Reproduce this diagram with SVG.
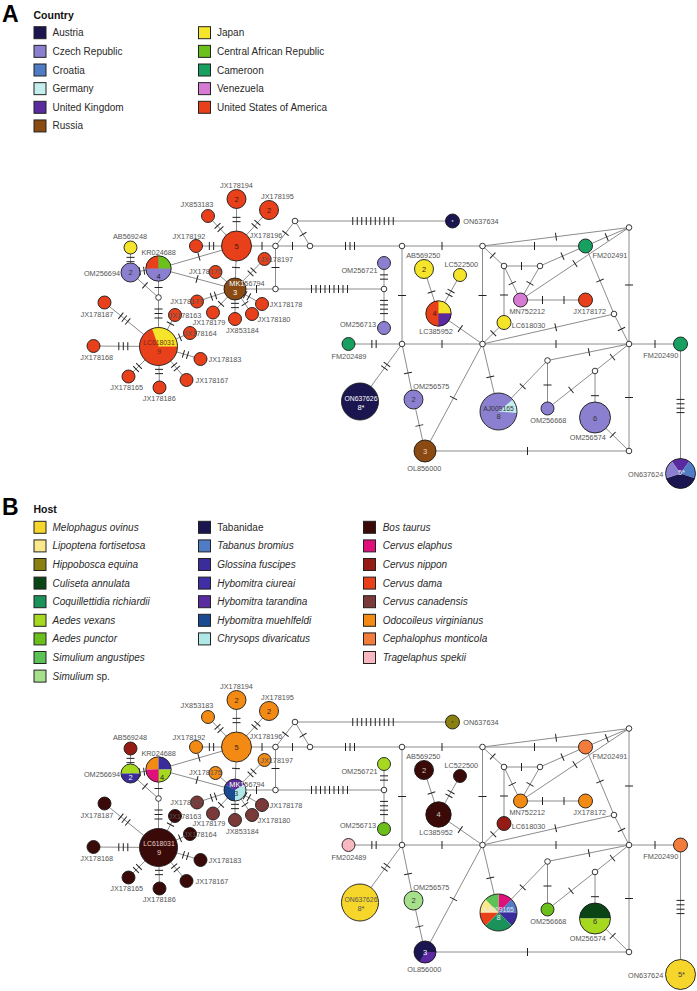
<svg xmlns="http://www.w3.org/2000/svg" xmlns:xlink="http://www.w3.org/1999/xlink" width="697" height="991" viewBox="0 0 697 991">
<style>
.n{stroke:#1a1a1a;stroke-width:0.9}
.o{fill:none;stroke:#1a1a1a;stroke-width:0.9}
.sw{stroke:#222;stroke-width:1}
.lb{font-family:"Liberation Sans",Arial,sans-serif;font-size:7.3px;fill:#555;text-anchor:middle}
.ls{text-anchor:start}
.le{text-anchor:end}
.nm{font-family:"Liberation Sans",Arial,sans-serif;font-size:7.5px;text-anchor:middle;fill:#3a1a10}
.sm{font-size:6.8px}
.w{fill:#fff}
.lt{fill:#e8d8c8}
.lg{font-family:"Liberation Sans",Arial,sans-serif;font-size:10px;fill:#2a2a2a}
.it{font-style:italic}
.hd{font-family:"Liberation Sans",Arial,sans-serif;font-size:10.5px;font-weight:bold;fill:#111}
.big{font-family:"Liberation Sans",Arial,sans-serif;font-size:23px;font-weight:bold;fill:#000}
.aut{fill:#1b1650}.cz{fill:#8b80d0}.cro{fill:#4f7cc4}.ger{fill:#c4eeee}.uk{fill:#5a2aa0}.rus{fill:#8a4a12}
.jp{fill:#f5e52a}.car{fill:#6cc01a}.cam{fill:#18a060}.ven{fill:#d77ad4}.usa{fill:#e8401a}
.mel{fill:#f6d62a}.lip{fill:#fbe88a}.hip{fill:#8a8012}.cul{fill:#0b4516}.coq{fill:#19935a}.aev{fill:#a6d820}
.aep{fill:#6abf1a}.sia{fill:#5cc256}.sis{fill:#a6e08a}.tab{fill:#1b1650}.tbr{fill:#4f7cc4}.glo{fill:#3b2c9c}
.hyc{fill:#3f2ea6}.hyt{fill:#5a2aa0}.hym{fill:#1a4a92}.chr{fill:#b0e8e8}.bos{fill:#3a0a08}.cel{fill:#e0107a}
.cni{fill:#941c14}.cda{fill:#e84018}.cca{fill:#7b3a3a}.odo{fill:#f28a14}.cep{fill:#f27c3c}.tra{fill:#f8b8c2}
</style>
<defs>
<g id="t1" stroke="#222" stroke-width="1"><line x1="0" y1="-4" x2="0" y2="4"/></g>
<g id="t2" stroke="#222" stroke-width="1"><line x1="-2.15" y1="-4" x2="-2.15" y2="4"/><line x1="2.15" y1="-4" x2="2.15" y2="4"/></g>
<g id="t3" stroke="#222" stroke-width="1"><line x1="-4.5" y1="-4" x2="-4.5" y2="4"/><line x1="0" y1="-4" x2="0" y2="4"/><line x1="4.5" y1="-4" x2="4.5" y2="4"/></g>
<g id="t4" stroke="#222" stroke-width="1"><line x1="-6.6" y1="-4" x2="-6.6" y2="4"/><line x1="-2.2" y1="-4" x2="-2.2" y2="4"/><line x1="2.2" y1="-4" x2="2.2" y2="4"/><line x1="6.6" y1="-4" x2="6.6" y2="4"/></g>
<g id="t9" stroke="#222" stroke-width="1"><line x1="-18" y1="-4" x2="-18" y2="4"/><line x1="-13.5" y1="-4" x2="-13.5" y2="4"/><line x1="-9" y1="-4" x2="-9" y2="4"/><line x1="-4.5" y1="-4" x2="-4.5" y2="4"/><line x1="0" y1="-4" x2="0" y2="4"/><line x1="4.5" y1="-4" x2="4.5" y2="4"/><line x1="9" y1="-4" x2="9" y2="4"/><line x1="13.5" y1="-4" x2="13.5" y2="4"/><line x1="18" y1="-4" x2="18" y2="4"/></g>
<g id="t10" stroke="#222" stroke-width="1"><line x1="-20.25" y1="-4" x2="-20.25" y2="4"/><line x1="-15.75" y1="-4" x2="-15.75" y2="4"/><line x1="-11.25" y1="-4" x2="-11.25" y2="4"/><line x1="-6.75" y1="-4" x2="-6.75" y2="4"/><line x1="-2.25" y1="-4" x2="-2.25" y2="4"/><line x1="2.25" y1="-4" x2="2.25" y2="4"/><line x1="6.75" y1="-4" x2="6.75" y2="4"/><line x1="11.25" y1="-4" x2="11.25" y2="4"/><line x1="15.75" y1="-4" x2="15.75" y2="4"/><line x1="20.25" y1="-4" x2="20.25" y2="4"/></g>
<g id="net-edges" stroke="#8c8c8c" stroke-width="1" fill="none">
<line x1="236.5" y1="246" x2="236.5" y2="199"/>
<line x1="236.5" y1="246" x2="208" y2="216"/>
<line x1="236.5" y1="246" x2="196" y2="246"/>
<line x1="236.5" y1="246" x2="269" y2="210"/>
<line x1="236.5" y1="246" x2="275.5" y2="246"/>
<line x1="236.5" y1="246" x2="235" y2="289"/>
<line x1="236.5" y1="246" x2="158.5" y2="268.5"/>
<line x1="235" y1="289" x2="158.5" y2="268.5"/>
<line x1="235" y1="289" x2="264.5" y2="259"/>
<line x1="235" y1="289" x2="275.5" y2="289"/>
<line x1="235" y1="289" x2="215.5" y2="272"/>
<line x1="235" y1="289" x2="197" y2="301.5"/>
<line x1="235" y1="289" x2="213" y2="312.5"/>
<line x1="235" y1="289" x2="235" y2="319"/>
<line x1="235" y1="289" x2="252" y2="314"/>
<line x1="235" y1="289" x2="262" y2="304"/>
<line x1="130.5" y1="272.5" x2="130.5" y2="247.5"/>
<line x1="130.5" y1="272.5" x2="158.5" y2="268.5"/>
<line x1="130.5" y1="272.5" x2="158.5" y2="297.5"/>
<line x1="158.5" y1="268.5" x2="158.5" y2="297.5"/>
<line x1="158.5" y1="297.5" x2="158.5" y2="346.5"/>
<line x1="158.5" y1="346.5" x2="175" y2="315"/>
<line x1="158.5" y1="346.5" x2="190" y2="333"/>
<line x1="158.5" y1="346.5" x2="104.5" y2="302.5"/>
<line x1="158.5" y1="346.5" x2="93.5" y2="346"/>
<line x1="158.5" y1="346.5" x2="128.5" y2="376.5"/>
<line x1="158.5" y1="346.5" x2="159.5" y2="387.5"/>
<line x1="158.5" y1="346.5" x2="186.5" y2="380"/>
<line x1="158.5" y1="346.5" x2="200.5" y2="359"/>
<line x1="275.5" y1="246" x2="295" y2="221"/>
<line x1="295" y1="221" x2="310" y2="246"/>
<line x1="275.5" y1="246" x2="310" y2="246"/>
<line x1="295" y1="221" x2="452.5" y2="221"/>
<line x1="310" y1="246" x2="402" y2="246"/>
<line x1="275.5" y1="246" x2="275.5" y2="289"/>
<line x1="275.5" y1="289" x2="384" y2="289"/>
<line x1="384" y1="289" x2="384" y2="263"/>
<line x1="384" y1="289" x2="384" y2="328"/>
<line x1="402" y1="246" x2="402" y2="344"/>
<line x1="402" y1="246" x2="482.5" y2="246"/>
<line x1="482.5" y1="246" x2="629" y2="227.5"/>
<line x1="482.5" y1="246" x2="585.5" y2="246"/>
<line x1="482.5" y1="246" x2="504" y2="266"/>
<line x1="482.5" y1="246" x2="482.5" y2="344"/>
<line x1="504" y1="266" x2="540" y2="266"/>
<line x1="504" y1="266" x2="520.5" y2="300"/>
<line x1="540" y1="266" x2="520.5" y2="300"/>
<line x1="504" y1="266" x2="504" y2="322.5"/>
<line x1="540" y1="266" x2="585.5" y2="246"/>
<line x1="520.5" y1="300" x2="629" y2="227.5"/>
<line x1="585.5" y1="246" x2="629" y2="227.5"/>
<line x1="520.5" y1="300" x2="585.5" y2="300"/>
<line x1="585.5" y1="246" x2="614" y2="314"/>
<line x1="629" y1="227.5" x2="629" y2="344"/>
<line x1="614" y1="314" x2="629" y2="344"/>
<line x1="614" y1="314" x2="482.5" y2="344"/>
<line x1="504" y1="322.5" x2="482.5" y2="344"/>
<line x1="482.5" y1="344" x2="629" y2="344"/>
<line x1="629" y1="344" x2="680.5" y2="344"/>
<line x1="680.5" y1="344" x2="680.5" y2="473.5"/>
<line x1="629" y1="344" x2="547.5" y2="360.5"/>
<line x1="629" y1="344" x2="595" y2="371"/>
<line x1="629" y1="344" x2="629" y2="451"/>
<line x1="547.5" y1="360.5" x2="498.5" y2="411.5"/>
<line x1="547.5" y1="360.5" x2="547.5" y2="408.5"/>
<line x1="595" y1="371" x2="547.5" y2="408.5"/>
<line x1="595" y1="371" x2="595" y2="417.5"/>
<line x1="595" y1="417.5" x2="629" y2="451"/>
<line x1="629" y1="451" x2="425" y2="451"/>
<line x1="482.5" y1="344" x2="498.5" y2="411.5"/>
<line x1="482.5" y1="344" x2="438.5" y2="313.5"/>
<line x1="482.5" y1="344" x2="425" y2="451"/>
<line x1="482.5" y1="344" x2="402" y2="344"/>
<line x1="438.5" y1="313.5" x2="424" y2="269"/>
<line x1="438.5" y1="313.5" x2="460" y2="275"/>
<line x1="402" y1="344" x2="348.5" y2="344"/>
<line x1="402" y1="344" x2="360" y2="401.5"/>
<line x1="402" y1="344" x2="413.5" y2="399.5"/>
<line x1="413.5" y1="399.5" x2="425" y2="451"/>
</g>
<g id="net-ticks">
<use xlink:href="#t2" transform="translate(236.5,219.5) rotate(90)"/>
<use xlink:href="#t2" transform="translate(219,227.5) rotate(46.5)"/>
<use xlink:href="#t2" transform="translate(211.5,246)"/>
<use xlink:href="#t2" transform="translate(256,224.4) rotate(-47.9)"/>
<use xlink:href="#t1" transform="translate(262,246)"/>
<use xlink:href="#t1" transform="translate(236,267.5) rotate(92)"/>
<use xlink:href="#t1" transform="translate(199,256.8) rotate(-16.1)"/>
<use xlink:href="#t1" transform="translate(197,279.1) rotate(15.4)"/>
<use xlink:href="#t2" transform="translate(252,271.9) rotate(-46)"/>
<use xlink:href="#t1" transform="translate(256.5,289)"/>
<use xlink:href="#t2" transform="translate(213.5,296.1) rotate(-18.2)"/>
<use xlink:href="#t1" transform="translate(221,303.9) rotate(-47)"/>
<use xlink:href="#t2" transform="translate(235,305.5) rotate(90)"/>
<use xlink:href="#t1" transform="translate(245,303.7) rotate(55.8)"/>
<use xlink:href="#t2" transform="translate(247,295.7) rotate(29)"/>
<use xlink:href="#t2" transform="translate(130.5,259.5) rotate(90)"/>
<use xlink:href="#t2" transform="translate(142,271) rotate(-8)"/>
<use xlink:href="#t1" transform="translate(145,285.4) rotate(41.8)"/>
<use xlink:href="#t1" transform="translate(158.5,287.5) rotate(90)"/>
<use xlink:href="#t3" transform="translate(158.5,313.5) rotate(90)"/>
<use xlink:href="#t1" transform="translate(170.5,323.6) rotate(-62.4)"/>
<use xlink:href="#t1" transform="translate(180,337.3) rotate(-23.2)"/>
<use xlink:href="#t3" transform="translate(124.3,318.6) rotate(39.2)"/>
<use xlink:href="#t3" transform="translate(123.3,346.2)"/>
<use xlink:href="#t2" transform="translate(137.5,367.5) rotate(-45)"/>
<use xlink:href="#t2" transform="translate(159,371.5) rotate(90)"/>
<use xlink:href="#t2" transform="translate(175.5,366.8) rotate(50.1)"/>
<use xlink:href="#t2" transform="translate(185.5,354.5) rotate(16.6)"/>
<use xlink:href="#t1" transform="translate(285.5,233.2) rotate(-52)"/>
<use xlink:href="#t1" transform="translate(303,234.3) rotate(59)"/>
<use xlink:href="#t1" transform="translate(292.5,246)"/>
<use xlink:href="#t10" transform="translate(373,221)"/>
<use xlink:href="#t3" transform="translate(350,246)"/>
<use xlink:href="#t1" transform="translate(275.5,267.5) rotate(90)"/>
<use xlink:href="#t9" transform="translate(329.5,289)"/>
<use xlink:href="#t2" transform="translate(384,277) rotate(90)"/>
<use xlink:href="#t4" transform="translate(384,307) rotate(90)"/>
<use xlink:href="#t1" transform="translate(402,295.5) rotate(90)"/>
<use xlink:href="#t1" transform="translate(442,246)"/>
<use xlink:href="#t1" transform="translate(556,236.7) rotate(-7.2)"/>
<use xlink:href="#t1" transform="translate(534.5,246)"/>
<use xlink:href="#t1" transform="translate(492.7,255.5) rotate(42.9)"/>
<use xlink:href="#t1" transform="translate(482.5,295.5) rotate(90)"/>
<use xlink:href="#t1" transform="translate(521.5,266)"/>
<use xlink:href="#t1" transform="translate(512.3,283.1) rotate(64.1)"/>
<use xlink:href="#t1" transform="translate(530,283.4) rotate(-60.2)"/>
<use xlink:href="#t1" transform="translate(504,295) rotate(90)"/>
<use xlink:href="#t1" transform="translate(562.5,256.1) rotate(-23.7)"/>
<use xlink:href="#t1" transform="translate(575,263.6) rotate(-33.7)"/>
<use xlink:href="#t1" transform="translate(606.7,237) rotate(-23)"/>
<use xlink:href="#t1" transform="translate(542.5,300)"/>
<use xlink:href="#t1" transform="translate(564,300)"/>
<use xlink:href="#t1" transform="translate(600,280.6) rotate(67.3)"/>
<use xlink:href="#t1" transform="translate(629,285) rotate(90)"/>
<use xlink:href="#t1" transform="translate(621.5,329) rotate(63.4)"/>
<use xlink:href="#t1" transform="translate(555.7,327.3) rotate(-12.9)"/>
<use xlink:href="#t1" transform="translate(493.3,333.2) rotate(-45)"/>
<use xlink:href="#t1" transform="translate(556,344)"/>
<use xlink:href="#t1" transform="translate(655,344)"/>
<use xlink:href="#t4" transform="translate(680.5,406) rotate(90)"/>
<use xlink:href="#t1" transform="translate(589,352.1) rotate(-11.4)"/>
<use xlink:href="#t1" transform="translate(612.5,357.1) rotate(-38.5)"/>
<use xlink:href="#t1" transform="translate(629,397.5) rotate(90)"/>
<use xlink:href="#t1" transform="translate(522.7,386.3) rotate(-46.1)"/>
<use xlink:href="#t1" transform="translate(547.5,385) rotate(90)"/>
<use xlink:href="#t1" transform="translate(571,389.9) rotate(-38.3)"/>
<use xlink:href="#t1" transform="translate(595,395.7) rotate(90)"/>
<use xlink:href="#t1" transform="translate(612.7,434.9) rotate(44.6)"/>
<use xlink:href="#t1" transform="translate(527.5,451)"/>
<use xlink:href="#t1" transform="translate(490.3,376.9) rotate(76.7)"/>
<use xlink:href="#t1" transform="translate(460.3,328.6) rotate(34.7)"/>
<use xlink:href="#t1" transform="translate(453.5,398) rotate(-61.7)"/>
<use xlink:href="#t1" transform="translate(442,344)"/>
<use xlink:href="#t1" transform="translate(431.5,292) rotate(72)"/>
<use xlink:href="#t2" transform="translate(450,292.9) rotate(-60.8)"/>
<use xlink:href="#t2" transform="translate(374,344)"/>
<use xlink:href="#t2" transform="translate(385.7,366.3) rotate(-53.9)"/>
<use xlink:href="#t1" transform="translate(408,373) rotate(78.3)"/>
<use xlink:href="#t1" transform="translate(419.3,425.5) rotate(77.4)"/>
</g>
<g id="net-hyp" fill="#fff" stroke="#222" stroke-width="0.9">
<circle cx="158.5" cy="297.5" r="2.8"/><circle cx="275.5" cy="246" r="2.8"/><circle cx="295" cy="221" r="2.8"/>
<circle cx="310" cy="246" r="2.8"/><circle cx="275.5" cy="289" r="2.8"/><circle cx="384" cy="289" r="2.8"/>
<circle cx="402" cy="246" r="2.8"/><circle cx="402" cy="344" r="2.8"/><circle cx="482.5" cy="246" r="2.8"/>
<circle cx="629" cy="227.5" r="2.8"/><circle cx="504" cy="266" r="2.8"/><circle cx="540" cy="266" r="2.8"/>
<circle cx="614" cy="314" r="2.8"/><circle cx="482.5" cy="344" r="2.8"/><circle cx="629" cy="344" r="2.8"/>
<circle cx="547.5" cy="360.5" r="2.8"/><circle cx="595" cy="371" r="2.8"/><circle cx="629" cy="451" r="2.8"/>
</g>
<clipPath id="clipMKa"><circle cx="235" cy="289" r="11"/></clipPath>
<clipPath id="clipMKb"><circle cx="235" cy="790" r="11"/></clipPath>
</defs>
<rect x="0" y="0" width="697" height="991" fill="#fff"/>

<!-- Panel A legend -->
<g id="legend-a">
<text class="big" x="2" y="22">A</text>
<text class="hd" x="33.5" y="19">Country</text>
<rect class="sw aut" x="34" y="26.7" width="12" height="12"/><text class="lg" x="52.5" y="36.2">Austria</text>
<rect class="sw cz" x="34" y="45.35" width="12" height="12"/><text class="lg" x="52.5" y="54.85">Czech Republic</text>
<rect class="sw cro" x="34" y="64" width="12" height="12"/><text class="lg" x="52.5" y="73.5">Croatia</text>
<rect class="sw ger" x="34" y="82.65" width="12" height="12"/><text class="lg" x="52.5" y="92.15">Germany</text>
<rect class="sw uk" x="34" y="101.3" width="12" height="12"/><text class="lg" x="52.5" y="110.8">United Kingdom</text>
<rect class="sw rus" x="34" y="119.95" width="12" height="12"/><text class="lg" x="52.5" y="129.45">Russia</text>
<rect class="sw jp" x="198.5" y="26.7" width="12" height="12"/><text class="lg" x="217" y="36.2">Japan</text>
<rect class="sw car" x="198.5" y="45.35" width="12" height="12"/><text class="lg" x="217" y="54.85">Central African Republic</text>
<rect class="sw cam" x="198.5" y="64" width="12" height="12"/><text class="lg" x="217" y="73.5">Cameroon</text>
<rect class="sw ven" x="198.5" y="82.65" width="12" height="12"/><text class="lg" x="217" y="92.15">Venezuela</text>
<rect class="sw usa" x="198.5" y="101.3" width="12" height="12"/><text class="lg" x="217" y="110.8">United States of America</text>
</g>

<g id="connectors-a"><use xlink:href="#net-edges"/><use xlink:href="#net-ticks"/></g>
<g id="median-vectors-a"><use xlink:href="#net-hyp"/></g>

<g id="nodes-a">
<g id="a-JX178194"><circle class="n usa" cx="236.5" cy="199" r="9.5"/><text class="nm" x="236.5" y="201.7">2</text><text class="lb" x="236.5" y="187.5">JX178194</text></g>
<g id="a-JX178195"><circle class="n usa" cx="269" cy="210" r="9.5"/><text class="nm" x="269" y="212.7">2</text><text class="lb" x="277.5" y="198.5">JX178195</text></g>
<g id="a-JX853183"><circle class="n usa" cx="208" cy="216" r="6.5"/><text class="lb" x="197" y="206.5">JX853183</text></g>
<g id="a-JX178192"><circle class="n usa" cx="196" cy="246" r="6.5"/><text class="lb" x="189" y="238.5">JX178192</text></g>
<g id="a-JX178196"><circle class="n usa" cx="236.5" cy="246" r="15"/><text class="nm" x="236.5" y="248.7">5</text><text class="lb" x="266" y="237.5">JX178196</text></g>
<g id="a-JX178197"><circle class="n usa" cx="264.5" cy="259" r="6.5"/><text class="lb" x="276.7" y="261.5">JX178197</text></g>
<g id="a-JX178175"><circle class="n usa" cx="215.5" cy="272" r="6.5"/><text class="lb" x="205.5" y="273.5">JX178175</text></g>
<g id="a-MK156794"><circle class="n rus" cx="235" cy="289" r="11"/><text class="lb" x="247" y="285.5">MK156794</text><text class="lb w" x="247" y="285.5" clip-path="url(#clipMKa)">MK156794</text><text class="nm w" x="235" y="295">3</text></g>
<g id="a-JX178177"><circle class="n usa" cx="197" cy="301.5" r="6.5"/><text class="lb" x="186.7" y="304.2">JX178177</text></g>
<g id="a-JX178179"><circle class="n usa" cx="213" cy="312.5" r="6.5"/><text class="lb" x="209" y="325.2">JX178179</text></g>
<g id="a-JX853184"><circle class="n usa" cx="235" cy="319" r="6.5"/><text class="lb" x="242.5" y="332.5">JX853184</text></g>
<g id="a-JX178180"><circle class="n usa" cx="252" cy="314" r="6.5"/><text class="lb" x="274" y="321.5">JX178180</text></g>
<g id="a-JX178178"><circle class="n usa" cx="262" cy="304" r="6.5"/><text class="lb" x="286" y="306.5">JX178178</text></g>
<g id="a-JX178163"><circle class="n usa" cx="175" cy="315" r="6.5"/><text class="lb" x="185" y="317.5">JX178163</text></g>
<g id="a-JX178164"><circle class="n usa" cx="190" cy="333" r="6.5"/><text class="lb" x="200.3" y="335.5">JX178164</text></g>
<g id="a-LC618031"><circle class="usa" cx="158.5" cy="346.5" r="19"/><path class="jp" d="M158.5,346.5 L152,328.64 A19,19 0 0 1 177.5,346.5 Z"/><circle class="o" cx="158.5" cy="346.5" r="19"/><text class="nm sm" x="159" y="345" style="fill:#7a2a12">LC618031</text><text class="nm" x="159" y="353.5" style="fill:#7a2a12">9</text></g>
<g id="a-JX178187"><circle class="n usa" cx="104.5" cy="302.5" r="6.5"/><text class="lb" x="97" y="316.5">JX178187</text></g>
<g id="a-JX178168"><circle class="n usa" cx="93.5" cy="346" r="6.5"/><text class="lb" x="96.7" y="359.8">JX178168</text></g>
<g id="a-JX178165"><circle class="n usa" cx="128.5" cy="376.5" r="6.5"/><text class="lb" x="126.7" y="390.2">JX178165</text></g>
<g id="a-JX178186"><circle class="n usa" cx="159.5" cy="387.5" r="6.5"/><text class="lb" x="159.3" y="401.2">JX178186</text></g>
<g id="a-JX178167"><circle class="n usa" cx="186.5" cy="380" r="6.5"/><text class="lb" x="212" y="383.2">JX178167</text></g>
<g id="a-JX178183"><circle class="n usa" cx="200.5" cy="359" r="6.5"/><text class="lb" x="225" y="361.5">JX178183</text></g>
<g id="a-AB569248"><circle class="n jp" cx="130.5" cy="247.5" r="6.5"/><text class="lb" x="130" y="238.5">AB569248</text></g>
<g id="a-OM256694"><circle class="n cz" cx="130.5" cy="272.5" r="9.5"/><text class="nm" x="130.5" y="275.2" style="fill:#333">2</text><text class="lb le" x="120" y="275.5">OM256694</text></g>
<g id="a-KR024688"><circle class="cz" cx="158.5" cy="268.5" r="12.7"/><path class="usa" d="M158.5,268.5 L145.8,268.5 A12.7,12.7 0 0 1 158.5,255.8 Z"/><path class="car" d="M158.5,268.5 L158.5,255.8 A12.7,12.7 0 0 1 171.2,268.5 Z"/><circle class="o" cx="158.5" cy="268.5" r="12.7"/><text class="nm" x="158.5" y="278.5" style="fill:#222">4</text><text class="lb" x="158.7" y="254.8">KR024688</text></g>
<g id="a-ON637634"><circle class="n aut" cx="452.5" cy="221" r="7"/><text class="nm w" x="452.5" y="223.5" style="font-size:5px">*</text><text class="lb ls" x="463.3" y="224">ON637634</text></g>
<g id="a-OM256721"><circle class="n cz" cx="384" cy="263" r="6.5"/><text class="lb le" x="377.5" y="272.5">OM256721</text></g>
<g id="a-OM256713"><circle class="n cz" cx="384" cy="328" r="6.5"/><text class="lb le" x="376" y="326.8">OM256713</text></g>
<g id="a-AB569250"><circle class="n jp" cx="424" cy="269" r="9.5"/><text class="nm" x="424" y="271.7">2</text><text class="lb" x="423.3" y="257.5">AB569250</text></g>
<g id="a-LC522500"><circle class="n jp" cx="460" cy="275" r="6.5"/><text class="lb" x="461.3" y="266.5">LC522500</text></g>
<g id="a-LC385952"><circle class="usa" cx="438.5" cy="313.5" r="12.7"/><path class="jp" d="M438.5,313.5 L438.5,300.8 A12.7,12.7 0 0 1 451.2,313.5 Z"/><path class="uk" d="M438.5,313.5 L451.2,313.5 A12.7,12.7 0 0 1 438.5,326.2 Z"/><circle class="o" cx="438.5" cy="313.5" r="12.7"/><text class="nm" x="434.5" y="316">4</text><text class="lb" x="436" y="334.2">LC385952</text></g>
<g id="a-FM202489"><circle class="n cam" cx="348.5" cy="344" r="6.5"/><text class="lb" x="349" y="358.5">FM202489</text></g>
<g id="a-ON637626"><circle class="n aut" cx="360" cy="401.5" r="18.5"/><text class="nm sm w" x="361" y="401">ON637626</text><text class="nm w" x="361" y="409.5">8*</text></g>
<g id="a-OM256575"><circle class="n cz" cx="413.5" cy="399.5" r="9.5"/><text class="nm" x="413.5" y="402.2" style="fill:#333">2</text><text class="lb" x="431.3" y="388.5">OM256575</text></g>
<g id="a-OL856000"><circle class="n rus" cx="425" cy="451" r="11"/><text class="nm lt" x="425" y="453.7">3</text><text class="lb" x="424.3" y="470.8">OL856000</text></g>
<g id="a-FM202491"><circle class="n cam" cx="585.5" cy="246" r="7"/><text class="lb" x="610" y="258.2">FM202491</text></g>
<g id="a-MN752212"><circle class="n ven" cx="520.5" cy="300" r="7"/><text class="lb" x="527.3" y="313.5">MN752212</text></g>
<g id="a-JX178172"><circle class="n usa" cx="585.5" cy="300" r="7"/><text class="lb" x="589.7" y="313.5">JX178172</text></g>
<g id="a-LC618030"><circle class="n jp" cx="504" cy="322.5" r="7"/><text class="lb ls" x="511.7" y="328">LC618030</text></g>
<g id="a-FM202490"><circle class="n cam" cx="680.5" cy="344" r="7"/><text class="lb" x="660.8" y="358.2">FM202490</text></g>
<g id="a-AJ009165"><circle class="cz" cx="498.5" cy="411.5" r="18.5"/><path class="ger" d="M498.5,411.5 L512.67,399.61 A18.5,18.5 0 0 1 516.93,413.11 Z"/><circle class="o" cx="498.5" cy="411.5" r="18.5"/><text class="nm sm" x="498.5" y="410.5" style="fill:#333">AJ009165</text><text class="nm" x="498.5" y="419" style="fill:#333">8</text></g>
<g id="a-OM256668"><circle class="n cz" cx="547.5" cy="408.5" r="6.5"/><text class="lb" x="548.3" y="423.2">OM256668</text></g>
<g id="a-OM256574"><circle class="n cz" cx="595" cy="417.5" r="15.5"/><text class="nm" x="595" y="421" style="fill:#333">6</text><text class="lb" x="587.8" y="440.2">OM256574</text></g>
<g id="a-ON637624"><path class="uk" d="M680.5,473.5 L671.68,461.37 A15,15 0 0 1 689.32,461.37 Z"/><path class="cro" d="M680.5,473.5 L689.32,461.37 A15,15 0 0 1 694.77,478.14 Z"/><path class="aut" d="M680.5,473.5 L694.77,478.14 A15,15 0 0 1 666.23,478.14 Z"/><path class="cz" d="M680.5,473.5 L666.23,478.14 A15,15 0 0 1 671.68,461.37 Z"/><circle class="o" cx="680.5" cy="473.5" r="15"/><text class="nm" x="681.5" y="475" style="fill:#e0e0f0">5*</text><text class="lb le" x="663.3" y="476.8">ON637624</text></g>
</g>

<!-- Panel B legend -->
<g id="legend-b">
<text class="big" x="2" y="515">B</text>
<text class="hd" x="33.5" y="513">Host</text>
<rect class="sw mel" x="34" y="521.3" width="12" height="12"/><text class="lg it" x="52.5" y="530.8">Melophagus ovinus</text>
<rect class="sw lip" x="34" y="539.9" width="12" height="12"/><text class="lg it" x="52.5" y="549.4">Lipoptena fortisetosa</text>
<rect class="sw hip" x="34" y="558.5" width="12" height="12"/><text class="lg it" x="52.5" y="568">Hippobosca equina</text>
<rect class="sw cul" x="34" y="577.1" width="12" height="12"/><text class="lg it" x="52.5" y="586.6">Culiseta annulata</text>
<rect class="sw coq" x="34" y="595.7" width="12" height="12"/><text class="lg it" x="52.5" y="605.2">Coquillettidia richiardii</text>
<rect class="sw aev" x="34" y="614.3" width="12" height="12"/><text class="lg it" x="52.5" y="623.8">Aedes vexans</text>
<rect class="sw aep" x="34" y="632.9" width="12" height="12"/><text class="lg it" x="52.5" y="642.4">Aedes punctor</text>
<rect class="sw sia" x="34" y="651.5" width="12" height="12"/><text class="lg it" x="52.5" y="661">Simulium angustipes</text>
<rect class="sw sis" x="34" y="670.1" width="12" height="12"/><text class="lg" x="52.5" y="679.6"><tspan class="it">Simulium</tspan> sp.</text>
<rect class="sw tab" x="198.5" y="521.3" width="12" height="12"/><text class="lg" x="217.3" y="530.8">Tabanidae</text>
<rect class="sw tbr" x="198.5" y="539.9" width="12" height="12"/><text class="lg it" x="217.3" y="549.4">Tabanus bromius</text>
<rect class="sw glo" x="198.5" y="558.5" width="12" height="12"/><text class="lg it" x="217.3" y="568">Glossina fuscipes</text>
<rect class="sw hyc" x="198.5" y="577.1" width="12" height="12"/><text class="lg it" x="217.3" y="586.6">Hybomitra ciureai</text>
<rect class="sw hyt" x="198.5" y="595.7" width="12" height="12"/><text class="lg it" x="217.3" y="605.2">Hybomitra tarandina</text>
<rect class="sw hym" x="198.5" y="614.3" width="12" height="12"/><text class="lg it" x="217.3" y="623.8">Hybomitra muehlfeldi</text>
<rect class="sw chr" x="198.5" y="632.9" width="12" height="12"/><text class="lg it" x="217.3" y="642.4">Chrysops divaricatus</text>
<rect class="sw bos" x="363.5" y="521.3" width="12" height="12"/><text class="lg it" x="382.7" y="530.8">Bos taurus</text>
<rect class="sw cel" x="363.5" y="539.9" width="12" height="12"/><text class="lg it" x="382.7" y="549.4">Cervus elaphus</text>
<rect class="sw cni" x="363.5" y="558.5" width="12" height="12"/><text class="lg it" x="382.7" y="568">Cervus nippon</text>
<rect class="sw cda" x="363.5" y="577.1" width="12" height="12"/><text class="lg it" x="382.7" y="586.6">Cervus dama</text>
<rect class="sw cca" x="363.5" y="595.7" width="12" height="12"/><text class="lg it" x="382.7" y="605.2">Cervus canadensis</text>
<rect class="sw odo" x="363.5" y="614.3" width="12" height="12"/><text class="lg it" x="382.7" y="623.8">Odocoileus virginianus</text>
<rect class="sw cep" x="363.5" y="632.9" width="12" height="12"/><text class="lg it" x="382.7" y="642.4">Cephalophus monticola</text>
<rect class="sw tra" x="363.5" y="651.5" width="12" height="12"/><text class="lg it" x="382.7" y="661">Tragelaphus spekii</text>
</g>

<g id="connectors-b" transform="translate(0,501)"><use xlink:href="#net-edges"/><use xlink:href="#net-ticks"/></g>
<g id="median-vectors-b" transform="translate(0,501)"><use xlink:href="#net-hyp"/></g>

<g id="nodes-b">
<g id="b-JX178194"><circle class="n odo" cx="236.5" cy="700" r="9.5"/><text class="nm" x="236.5" y="702.7">2</text><text class="lb" x="236.5" y="688.5">JX178194</text></g>
<g id="b-JX178195"><circle class="n odo" cx="269" cy="711" r="9.5"/><text class="nm" x="269" y="713.7">2</text><text class="lb" x="277.5" y="699.5">JX178195</text></g>
<g id="b-JX853183"><circle class="n odo" cx="208" cy="717" r="6.5"/><text class="lb" x="197" y="707.5">JX853183</text></g>
<g id="b-JX178192"><circle class="n odo" cx="196" cy="747" r="6.5"/><text class="lb" x="189" y="739.5">JX178192</text></g>
<g id="b-JX178196"><circle class="n odo" cx="236.5" cy="747" r="15"/><text class="nm" x="236.5" y="749.7">5</text><text class="lb" x="266" y="738.5">JX178196</text></g>
<g id="b-JX178197"><circle class="n odo" cx="264.5" cy="760" r="6.5"/><text class="lb" x="276.7" y="762.5">JX178197</text></g>
<g id="b-JX178175"><circle class="n odo" cx="215.5" cy="773" r="6.5"/><text class="lb" x="205.5" y="774.5">JX178175</text></g>
<g id="b-MK156794"><path class="hyt" d="M235,790 L225.47,784.5 A11,11 0 0 1 244.53,784.5 Z"/><path class="chr" d="M235,790 L244.53,784.5 A11,11 0 0 1 235,801 Z"/><path class="hym" d="M235,790 L235,801 A11,11 0 0 1 225.47,784.5 Z"/><circle class="o" cx="235" cy="790" r="11"/><text class="lb" x="247" y="786.5">MK156794</text><text class="lb w" x="247" y="786.5" clip-path="url(#clipMKb)">MK156794</text><text class="nm" x="236" y="796" style="fill:#333">3</text></g>
<g id="b-JX178177"><circle class="n cca" cx="197" cy="802.5" r="6.5"/><text class="lb" x="186.7" y="805.2">JX178177</text></g>
<g id="b-JX178179"><circle class="n cca" cx="213" cy="813.5" r="6.5"/><text class="lb" x="209" y="826.2">JX178179</text></g>
<g id="b-JX853184"><circle class="n cca" cx="235" cy="820" r="6.5"/><text class="lb" x="242.5" y="833.5">JX853184</text></g>
<g id="b-JX178180"><circle class="n cca" cx="252" cy="815" r="6.5"/><text class="lb" x="274" y="822.5">JX178180</text></g>
<g id="b-JX178178"><circle class="n cca" cx="262" cy="805" r="6.5"/><text class="lb" x="286" y="807.5">JX178178</text></g>
<g id="b-JX178163"><circle class="n bos" cx="175" cy="816" r="6.5"/><text class="lb" x="185" y="818.5">JX178163</text></g>
<g id="b-JX178164"><circle class="n bos" cx="190" cy="834" r="6.5"/><text class="lb" x="200.3" y="836.5">JX178164</text></g>
<g id="b-LC618031"><circle class="n bos" cx="158.5" cy="847.5" r="19"/><text class="nm sm" x="159" y="846" style="fill:#e8d0c8">LC618031</text><text class="nm" x="159" y="854.5" style="fill:#e8d0c8">9</text></g>
<g id="b-JX178187"><circle class="n bos" cx="104.5" cy="803.5" r="6.5"/><text class="lb" x="97" y="817.5">JX178187</text></g>
<g id="b-JX178168"><circle class="n bos" cx="93.5" cy="847" r="6.5"/><text class="lb" x="96.7" y="860.8">JX178168</text></g>
<g id="b-JX178165"><circle class="n bos" cx="128.5" cy="877.5" r="6.5"/><text class="lb" x="126.7" y="891.2">JX178165</text></g>
<g id="b-JX178186"><circle class="n bos" cx="159.5" cy="888.5" r="6.5"/><text class="lb" x="159.3" y="902.2">JX178186</text></g>
<g id="b-JX178167"><circle class="n bos" cx="186.5" cy="881" r="6.5"/><text class="lb" x="212" y="884.2">JX178167</text></g>
<g id="b-JX178183"><circle class="n bos" cx="200.5" cy="860" r="6.5"/><text class="lb" x="225" y="862.5">JX178183</text></g>
<g id="b-AB569248"><circle class="n cni" cx="130.5" cy="748.5" r="6.5"/><text class="lb" x="130" y="739.5">AB569248</text></g>
<g id="b-OM256694"><path class="aev" d="M121,773.5 A9.5,9.5 0 0 1 140,773.5 Z"/><path class="glo" d="M140,773.5 A9.5,9.5 0 0 1 121,773.5 Z"/><circle class="o" cx="130.5" cy="773.5" r="9.5"/><text class="nm w" x="130.5" y="779.5">2</text><text class="lb le" x="120" y="776.5">OM256694</text></g>
<g id="b-KR024688"><path class="odo" d="M158.5,769.5 L145.8,769.5 A12.7,12.7 0 0 1 158.5,756.8 Z"/><path class="glo" d="M158.5,769.5 L158.5,756.8 A12.7,12.7 0 0 1 171.2,769.5 Z"/><path class="aev" d="M158.5,769.5 L171.2,769.5 A12.7,12.7 0 0 1 158.5,782.2 Z"/><path class="cel" d="M158.5,769.5 L158.5,782.2 A12.7,12.7 0 0 1 145.8,769.5 Z"/><circle class="o" cx="158.5" cy="769.5" r="12.7"/><text class="nm" x="162" y="779.5" style="fill:#222">4</text><text class="lb" x="158.7" y="755.8">KR024688</text></g>
<g id="b-ON637634"><circle class="n hip" cx="452.5" cy="722" r="7"/><text class="nm" x="452.5" y="724.5" style="font-size:5px;fill:#222">*</text><text class="lb ls" x="463.3" y="725">ON637634</text></g>
<g id="b-OM256721"><circle class="n aev" cx="384" cy="764" r="6.5"/><text class="lb le" x="377.5" y="773.5">OM256721</text></g>
<g id="b-OM256713"><circle class="n aep" cx="384" cy="829" r="6.5"/><text class="lb le" x="376" y="827.8">OM256713</text></g>
<g id="b-AB569250"><circle class="n bos" cx="424" cy="770" r="9.5"/><text class="nm" x="424" y="772.7" style="fill:#ccc">2</text><text class="lb" x="423.3" y="758.5">AB569250</text></g>
<g id="b-LC522500"><circle class="n bos" cx="460" cy="776" r="6.5"/><text class="lb" x="461.3" y="767.5">LC522500</text></g>
<g id="b-LC385952"><circle class="n bos" cx="438.5" cy="814.5" r="12.7"/><text class="nm" x="438.5" y="817.2" style="fill:#ccc">4</text><text class="lb" x="436" y="835.2">LC385952</text></g>
<g id="b-FM202489"><circle class="n tra" cx="348.5" cy="845" r="6.5"/><text class="lb" x="349" y="859.5">FM202489</text></g>
<g id="b-ON637626"><circle class="n mel" cx="360" cy="902.5" r="18.5"/><text class="nm sm" x="361" y="902" style="fill:#555">ON637626</text><text class="nm" x="361" y="910.5" style="fill:#555">8*</text></g>
<g id="b-OM256575"><circle class="n sis" cx="413.5" cy="900.5" r="9.5"/><text class="nm" x="413.5" y="903.2" style="fill:#333">2</text><text class="lb" x="431.3" y="889.5">OM256575</text></g>
<g id="b-OL856000"><circle class="tab" cx="425" cy="952" r="11"/><path class="hyt" d="M425,952 L436,952 A11,11 0 0 1 419.5,961.53 Z"/><circle class="o" cx="425" cy="952" r="11"/><text class="nm w" x="425" y="954.7">3</text><text class="lb" x="424.3" y="971.8">OL856000</text></g>
<g id="b-FM202491"><circle class="n cep" cx="585.5" cy="747" r="7"/><text class="lb" x="610" y="759.2">FM202491</text></g>
<g id="b-MN752212"><circle class="n odo" cx="520.5" cy="801" r="7"/><text class="lb" x="527.3" y="814.5">MN752212</text></g>
<g id="b-JX178172"><circle class="n odo" cx="585.5" cy="801" r="7"/><text class="lb" x="589.7" y="814.5">JX178172</text></g>
<g id="b-LC618030"><circle class="n cni" cx="504" cy="823.5" r="7"/><text class="lb ls" x="511.7" y="829">LC618030</text></g>
<g id="b-FM202490"><circle class="n cep" cx="680.5" cy="845" r="7"/><text class="lb" x="660.8" y="859.2">FM202490</text></g>
<g id="b-AJ009165"><path class="cel" d="M498.5,912.5 L498.5,894 A18.5,18.5 0 0 1 511.58,899.42 Z"/><path class="tbr" d="M498.5,912.5 L511.58,899.42 A18.5,18.5 0 0 1 517,912.5 Z"/><path class="glo" d="M498.5,912.5 L517,912.5 A18.5,18.5 0 0 1 511.58,925.58 Z"/><path class="coq" d="M498.5,912.5 L511.58,925.58 A18.5,18.5 0 0 1 485.42,925.58 Z"/><path class="cda" d="M498.5,912.5 L485.42,925.58 A18.5,18.5 0 0 1 480,912.5 Z"/><path class="lip" d="M498.5,912.5 L480,912.5 A18.5,18.5 0 0 1 485.42,899.42 Z"/><path class="sia" d="M498.5,912.5 L485.42,899.42 A18.5,18.5 0 0 1 498.5,894 Z"/><circle class="o" cx="498.5" cy="912.5" r="18.5"/><text class="nm sm" x="498.5" y="911.5" style="fill:#ece4f4">AJ009165</text><text class="nm" x="498.5" y="920" style="fill:#ece4f4">8</text></g>
<g id="b-OM256668"><circle class="n aep" cx="547.5" cy="909.5" r="6.5"/><text class="lb" x="548.3" y="924.2">OM256668</text></g>
<g id="b-OM256574"><path class="cul" d="M579.5,918.5 A15.5,15.5 0 0 1 610.5,918.5 Z"/><path class="aev" d="M610.5,918.5 A15.5,15.5 0 0 1 579.5,918.5 Z"/><circle class="o" cx="595" cy="918.5" r="15.5"/><text class="nm" x="595" y="924" style="fill:#333">6</text><text class="lb" x="587.8" y="941.2">OM256574</text></g>
<g id="b-ON637624"><circle class="n mel" cx="680.5" cy="974.5" r="15"/><text class="nm" x="681.5" y="977" style="fill:#444">5*</text><text class="lb le" x="663.3" y="977.8">ON637624</text></g>
</g>
</svg>
